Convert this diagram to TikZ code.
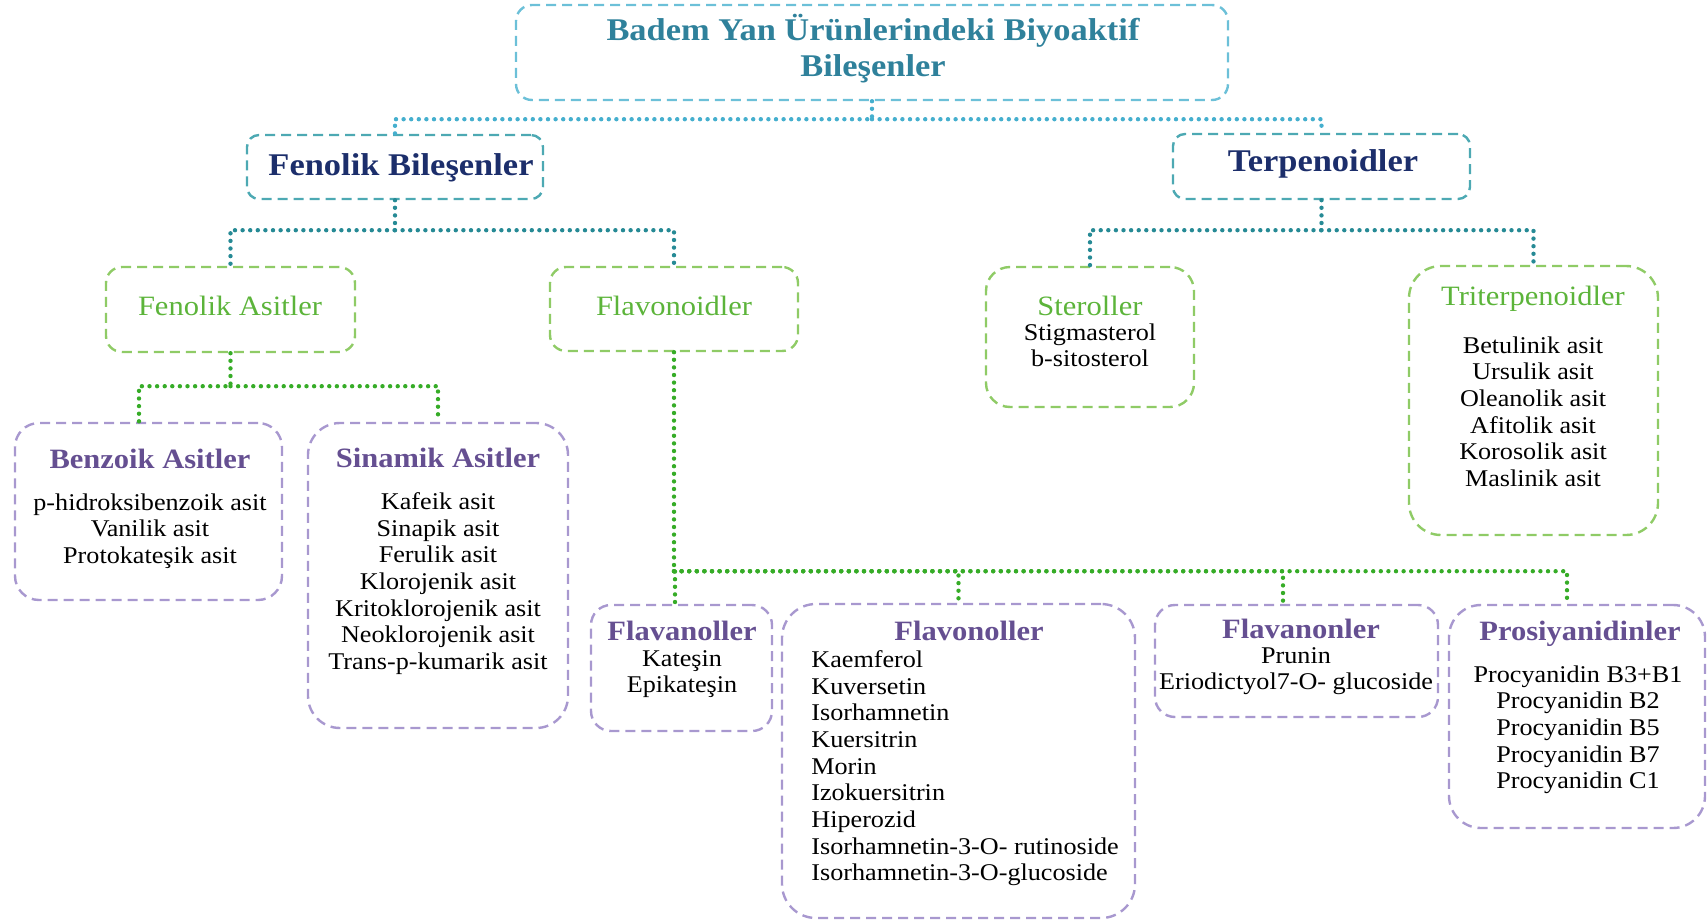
\documentclass[tikz,border=0pt]{standalone}
\usepackage{fontspec}
\setmainfont{Liberation Serif}[FakeStretch=1.09]
\definecolor{topline}{HTML}{6CC0D8}
\definecolor{toptext}{HTML}{2F819B}
\definecolor{groupline}{HTML}{4DA9B3}
\definecolor{grouptext}{HTML}{1C2E6B}
\definecolor{classline}{HTML}{8FCB66}
\definecolor{classtext}{HTML}{5CB43A}
\definecolor{subline}{HTML}{A898CF}
\definecolor{subtext}{HTML}{654F91}
\definecolor{toplink}{HTML}{45AFCE}
\definecolor{grouplink}{HTML}{268A95}
\definecolor{classlink}{HTML}{36AC27}
\tikzset{top box/.style={rectangle,draw=topline,line width=1.2pt,dash pattern=on 5pt off 3pt,rounded corners=8pt,inner sep=0pt},
         group box/.style={top box,draw=groupline,rounded corners=6pt},
         class box/.style={top box,draw=classline,rounded corners=10pt},
         sub box/.style={top box,draw=subline,rounded corners=12pt},
         top text/.style={inner sep=0pt,align=center,text=toptext,font=\fontsize{15.8}{17.85}\selectfont\bfseries,execute at begin node=\strut},
         group text/.style={inner sep=0pt,text=grouptext,font=\fontsize{15.8}{17.85}\selectfont\bfseries,anchor=base},
         class text/.style={inner sep=0pt,text=classtext,font=\fontsize{14}{16}\selectfont,anchor=base},
         sub text/.style={inner sep=0pt,text=subtext,font=\fontsize{14}{16}\selectfont\bfseries,anchor=base},
         item text/.style={inner sep=0pt,align=center,anchor=north,font=\fontsize{12}{13.35}\selectfont,execute at begin node=\strut},
         link/.style={line width=2.2pt,line cap=round,dash pattern=on 0pt off 3.8pt}
}
\begin{document}
\begin{tikzpicture}[x=0.5pt,y=-0.5pt]
\useasboundingbox (0,0) rectangle (1708,921);

% boxes
\node[top box,minimum width=356pt,minimum height=47.5pt] (root) at (872,52.5) {};
\node[group box,minimum width=148pt,minimum height=32pt] (fen) at (395,167) {};
\node[group box,minimum width=148.5pt,minimum height=32.5pt] (ter) at (1321.5,166.5) {};
\node[class box,minimum width=124.5pt,minimum height=42.5pt,rounded corners=8pt] (fa) at (230.5,309.5) {};
\node[class box,minimum width=124pt,minimum height=42pt,rounded corners=8pt] (fl) at (674,309) {};
\node[class box,minimum width=104pt,minimum height=70pt,rounded corners=12pt] (st) at (1090,337) {};
\node[class box,minimum width=124.5pt,minimum height=134.5pt,rounded corners=16pt] (tt) at (1533.5,400.5) {};
\node[sub box,minimum width=133.5pt,minimum height=88.5pt] (bz) at (148.5,511.5) {};
\node[sub box,minimum width=130pt,minimum height=152.5pt,rounded corners=16pt] (sn) at (438,575.5) {};
\node[sub box,minimum width=90.5pt,minimum height=63pt,rounded corners=10pt] (fvn) at (681.5,668) {};
\node[sub box,minimum width=176.5pt,minimum height=157pt,rounded corners=17pt] (fvl) at (958.5,761) {};
\node[sub box,minimum width=141.5pt,minimum height=56pt,rounded corners=10pt] (fvo) at (1296.5,661) {};
\node[sub box,minimum width=128pt,minimum height=111.5pt,rounded corners=16pt] (pro) at (1577,716.5) {};

% headings
\node[top text,anchor=north] (rootlbl) at (873,14) {Badem Yan Ürünlerindeki Biyoaktif\\Bileşenler};
\node[group text] (fenlbl) at (401,175) {Fenolik Bileşenler};
\node[group text] (terlbl) at (1323,171) {Terpenoidler};
\node[class text] (falbl) at (230,315) {Fenolik Asitler};
\node[class text] (fllbl) at (674,315) {Flavonoidler};
\node[class text] (stlbl) at (1090,315) {Steroller};
\node[class text] (ttlbl) at (1533,305) {Triterpenoidler};
\node[sub text] (bzlbl) at (150,468) {Benzoik Asitler};
\node[sub text] (snlbl) at (438,467) {Sinamik Asitler};
\node[sub text] (fvnlbl) at (682,640) {Flavanoller};
\node[sub text] (fvllbl) at (969,640) {Flavonoller};
\node[sub text] (fvolbl) at (1301,638) {Flavanonler};
\node[sub text] (prolbl) at (1580,640) {Prosiyanidinler};

% compound lists
\node[item text] (stlist) at (1090,323) {Stigmasterol\\b-sitosterol};
\node[item text] (ttlist) at (1533,336) {Betulinik asit\\Ursulik asit\\Oleanolik asit\\Afitolik asit\\Korosolik asit\\Maslinik asit};
\node[item text] (bzlist) at (150,493) {p-hidroksibenzoik asit\\Vanilik asit\\Protokateşik asit};
\node[item text] (snlist) at (438,492) {Kafeik asit\\Sinapik asit\\Ferulik asit\\Klorojenik asit\\Kritoklorojenik asit\\Neoklorojenik asit\\Trans-p-kumarik asit};
\node[item text] (fvnlist) at (682,650) {Kateşin\\Epikateşin};
\node[item text,align=left,anchor=north west] (fvllist) at (811,650) {Kaemferol\\Kuversetin\\Isorhamnetin\\Kuersitrin\\Morin\\Izokuersitrin\\Hiperozid\\Isorhamnetin-3-O- rutinoside\\Isorhamnetin-3-O-glucoside};
\node[item text] (fvolist) at (1296,647) {Prunin\\Eriodictyol7-O- glucoside};
\node[item text] (prolist) at (1578,665) {Procyanidin B3+B1\\Procyanidin B2\\Procyanidin B5\\Procyanidin B7\\Procyanidin C1};

% connectors
\coordinate (j1) at ([yshift=-9pt]root.south);
\coordinate (j2) at ([yshift=-15pt]fen.south);
\coordinate (j3) at ([yshift=-15pt]ter.south);
\coordinate (j4) at ([yshift=-16.5pt]fa.south);
\coordinate (j5) at ([yshift=-109.5pt]fl.south);
\draw[link,toplink] (root.south) -- (j1) -| (fen.north);
\draw[link,toplink] (j1) -| (ter.north);
\draw[link,grouplink] (fen.south) -- (j2) -| (fa.north);
\draw[link,grouplink] (j2) -| (fl.north);
\draw[link,grouplink] (ter.south) -- (j3) -| (st.north);
\draw[link,grouplink] (j3) -| (tt.north);
\draw[link,classlink] (fa.south) -- (j4) -| ([xshift=-4.75pt]bz.north);
\draw[link,classlink] (j4) -| (sn.north);
\draw[link,classlink] (fl.south) -- (j5) -| ([xshift=-3.25pt]fvn.north);
\draw[link,classlink] (j5) -| (fvl.north);
\draw[link,classlink] (j5) -| ([xshift=-6.75pt]fvo.north);
\draw[link,classlink] (j5) -| ([xshift=-5pt]pro.north);
\end{tikzpicture}
\end{document}
